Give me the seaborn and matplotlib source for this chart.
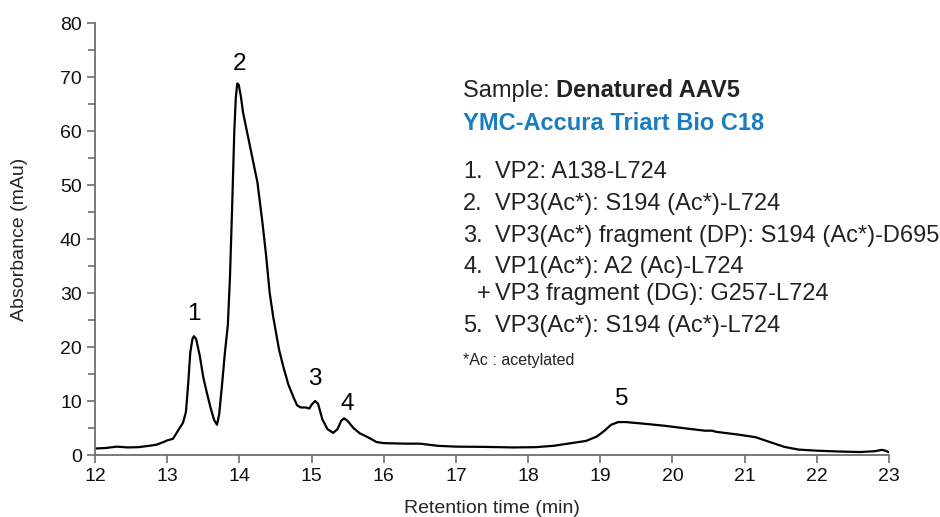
import numpy as np
import pandas as pd
import matplotlib
matplotlib.use("Agg")
import matplotlib.pyplot as plt
import seaborn as sns
from matplotlib.ticker import MultipleLocator

# chromatogram trace (time in min, absorbance in mAu)
time_min = [12.0, 12.15, 12.3, 12.45, 12.6, 12.75, 12.85, 12.95, 13.0, 13.08,
            13.15, 13.22, 13.26, 13.29, 13.32, 13.35, 13.37, 13.4, 13.45, 13.5,
            13.55, 13.6, 13.65, 13.69, 13.72, 13.76, 13.8, 13.84, 13.87, 13.9,
            13.93, 13.95, 13.97, 13.99, 14.02, 14.05, 14.15, 14.25, 14.32, 14.37,
            14.42, 14.47, 14.55, 14.61, 14.68, 14.75, 14.8, 14.85, 14.92, 14.97,
            15.0, 15.05, 15.09, 15.15, 15.22, 15.3, 15.36, 15.41, 15.45, 15.5,
            15.58, 15.67, 15.75, 15.82, 15.9, 16.0, 16.3, 16.5, 16.75, 17.0,
            17.4, 17.8, 18.1, 18.35, 18.55, 18.8, 18.95, 19.05, 19.15, 19.25,
            19.35, 19.6, 19.9, 20.2, 20.45, 20.55, 20.6, 20.9, 21.15, 21.35,
            21.55, 21.75, 22.0, 22.3, 22.6, 22.8, 22.9, 22.95, 23.0]
absorbance = [1.2, 1.3, 1.55, 1.4, 1.45, 1.7, 1.9, 2.4, 2.7, 3.0,
              4.5, 6.0, 8.0, 13.0, 19.0, 21.5, 22.0, 21.5, 18.5, 14.4,
              11.5, 8.8, 6.5, 5.6, 7.5, 13.0, 19.0, 24.0, 33.0, 46.0,
              60.0, 66.0, 68.8, 68.6, 66.5, 63.5, 57.0, 50.5, 43.0, 37.0,
              30.0, 25.5, 19.5, 16.3, 13.0, 10.7, 9.2, 8.8, 8.8, 8.6,
              9.3, 10.0, 9.5, 6.6, 4.8, 4.1, 4.8, 6.3, 6.8, 6.3,
              5.0, 4.0, 3.5, 3.0, 2.4, 2.2, 2.1, 2.1, 1.7, 1.55,
              1.5, 1.4, 1.45, 1.7, 2.1, 2.6, 3.4, 4.4, 5.6, 6.1,
              6.1, 5.8, 5.4, 4.9, 4.5, 4.5, 4.3, 3.8, 3.3, 2.4,
              1.5, 1.0, 0.8, 0.65, 0.55, 0.7, 0.95, 0.8, 0.5]

peak_labels = ["1", "2", "3", "4", "5"]
peak_x = [13.37, 14.0, 15.05, 15.5, 19.3]
peak_y = [24.0, 70.4, 12.0, 7.4, 8.3]

items = ["1.", "2.", "3.", "4.", "", "5."]
item_texts = ["VP2: A138-L724",
              "VP3(Ac*): S194 (Ac*)-L724",
              "VP3(Ac*) fragment (DP): S194 (Ac*)-D695",
              "VP1(Ac*): A2 (Ac)-L724",
              "VP3 fragment (DG): G257-L724",
              "VP3(Ac*): S194 (Ac*)-L724"]

df = pd.DataFrame({"time": time_min, "abs": absorbance})

sns.set_theme(style="ticks")
plt.rcParams["font.family"] = ["Liberation Sans", "DejaVu Sans"]

W, H = 940, 517
fig = plt.figure(figsize=(W / 100, H / 100), dpi=100)
ax = fig.add_axes([95 / W, 1 - 455 / H, (889 - 95) / W, (455 - 23) / H])

sns.lineplot(data=df, x="time", y="abs", ax=ax, color="black", linewidth=1.6)

ax.set_xlim(12, 23)
ax.set_ylim(0, 80)
ax.xaxis.set_major_locator(MultipleLocator(1))
ax.yaxis.set_major_locator(MultipleLocator(10))
ax.yaxis.set_minor_locator(MultipleLocator(5))
sns.despine(ax=ax)
for s in ["left", "bottom"]:
    ax.spines[s].set_color("#6e6e6e")
    ax.spines[s].set_linewidth(1.3)
ax.tick_params(axis="both", which="both", direction="out", color="#6e6e6e",
               width=1.2, labelsize=14, labelcolor="#111111")
ax.tick_params(axis="both", which="major", length=6)
ax.tick_params(axis="y", which="minor", length=5)

ax.set_xlabel("Retention time (min)", fontsize=14, va="top")
ax.xaxis.set_label_coords(0.5, -0.104)
ax.set_ylabel("Absorbance (mAu)", fontsize=14, va="center")
ax.yaxis.set_label_coords(-0.095, 0.5)

for lab, x, y in zip(peak_labels, peak_x, peak_y):
    ax.text(x, y, lab, fontsize=17.5, ha="center", va="bottom", color="black")

def px(x, y):
    return x / W, 1 - y / H

renderer = fig.canvas.get_renderer()
t = fig.text(*px(463, 97), "Sample: ", fontsize=17, va="baseline", color="#222222")
bb = t.get_window_extent(renderer)
fig.text(bb.x1 / W, 1 - 97 / H, "Denatured AAV5", fontsize=17, va="baseline",
         fontweight="bold", color="#222222")
fig.text(*px(463, 130), "YMC-Accura Triart Bio C18", fontsize=17,
         va="baseline", fontweight="bold", color="#1a7cc1")

baselines = [178, 210, 242, 273, 300, 332]
for num, txt, yb in zip(items, item_texts, baselines):
    if num:
        fig.text(*px(463, yb), num, fontsize=17, va="baseline", color="#222222")
    else:
        fig.text(*px(477, yb), "+", fontsize=17, va="baseline", color="#222222")
    fig.text(*px(495, yb), txt, fontsize=17, va="baseline", color="#222222")

fig.text(*px(463, 365), "*Ac : acetylated", fontsize=11.5, va="baseline",
         color="#222222")

fig.savefig("out.png", dpi=100)
